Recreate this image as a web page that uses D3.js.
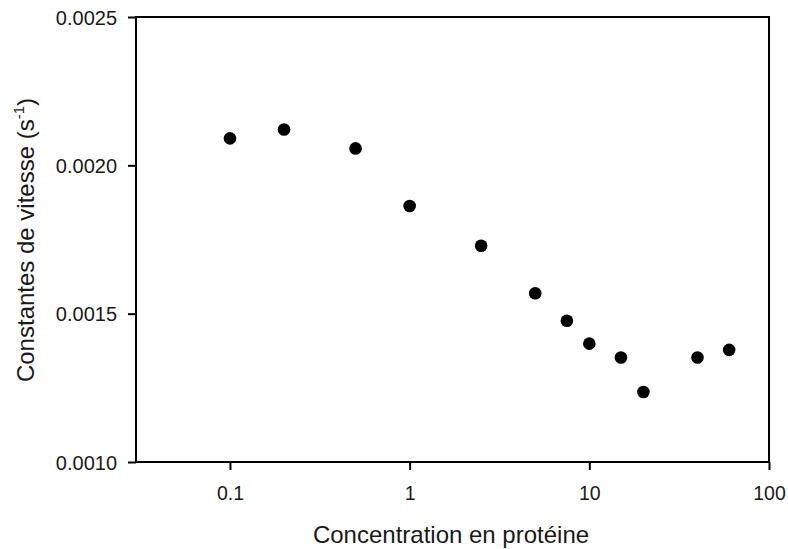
<!DOCTYPE html>
<html>
<head>
<meta charset="utf-8">
<script src="https://cdn.jsdelivr.net/npm/d3@7"></script>
<style>
  body { margin: 0; background: #fff; }
  text { font-family: "Liberation Sans", Arial, sans-serif; fill: #1a1a1a; }
</style>
</head>
<body>
<svg id="chart" width="788" height="549"></svg>
<script>
const concentrations = [0.1, 0.2, 0.5, 1, 2.5, 5, 7.5, 10, 15, 20, 40, 60];
const rateConstants = [0.002091, 0.002121, 0.002057, 0.001863, 0.001729, 0.001569, 0.001476, 0.001399, 0.001352, 0.001236, 0.001352, 0.001378];
const xTickValues = [0.1, 1, 10, 100];
const yTickValues = [0.0010, 0.0015, 0.0020, 0.0025];
const xTitle = "Concentration en protéine";
const yTitle = "Constantes de vitesse (s";

const svg = d3.select("#chart");
const mLeft = 136, mRight = 769, mTop = 17, mBottom = 462;

const x = d3.scaleLog().domain([0.03, 100]).range([mLeft, mRight]);
const y = d3.scaleLinear().domain([0.0010, 0.0025]).range([mBottom, mTop]);

// x axis
const xAxis = svg.append("g").attr("transform", `translate(0,${mBottom})`)
  .call(d3.axisBottom(x).tickValues(xTickValues).tickSize(8)
    .tickFormat(d => d3.format("~g")(d)));
xAxis.select(".domain").remove();
xAxis.selectAll(".tick line").attr("stroke", "#000").attr("stroke-width", 2);
xAxis.selectAll(".tick text").attr("y", 38).attr("dy", 0)
  .style("font-size", "19.5px").style("font-family", "Liberation Sans, Arial, sans-serif").attr("fill", "#1a1a1a");

// y axis
const yAxis = svg.append("g").attr("transform", `translate(${mLeft},0)`)
  .call(d3.axisLeft(y).tickValues(yTickValues).tickSize(8)
    .tickFormat(d3.format(".4f")));
yAxis.select(".domain").remove();
yAxis.selectAll(".tick line").attr("stroke", "#000").attr("stroke-width", 2);
yAxis.selectAll(".tick text").attr("x", -19).attr("dy", "0.36em")
  .style("font-size", "20px").style("font-family", "Liberation Sans, Arial, sans-serif").attr("fill", "#1a1a1a");

// frame
svg.append("rect")
  .attr("x", x.range()[0]).attr("y", y.range()[1])
  .attr("width", x.range()[1] - x.range()[0])
  .attr("height", y.range()[0] - y.range()[1])
  .attr("fill", "none").attr("stroke", "#000").attr("stroke-width", 2);

// points
svg.append("g").selectAll("circle")
  .data(concentrations.map((c, i) => [c, rateConstants[i]]))
  .join("circle")
  .attr("cx", d => x(d[0]))
  .attr("cy", d => y(d[1]))
  .attr("r", 6.3)
  .attr("fill", "#000");

// x title
svg.append("text")
  .attr("x", 451).attr("y", 543)
  .attr("text-anchor", "middle")
  .style("font-size", "24px")
  .text(xTitle);

// y title
const yt = svg.append("text")
  .attr("transform", "translate(34,240) rotate(-90)")
  .attr("text-anchor", "middle")
  .style("font-size", "24px");
yt.append("tspan").text(yTitle);
yt.append("tspan").attr("dy", -10).style("font-size", "15px").text("-1");
yt.append("tspan").attr("dy", 10).text(")");
</script>
</body>
</html>
